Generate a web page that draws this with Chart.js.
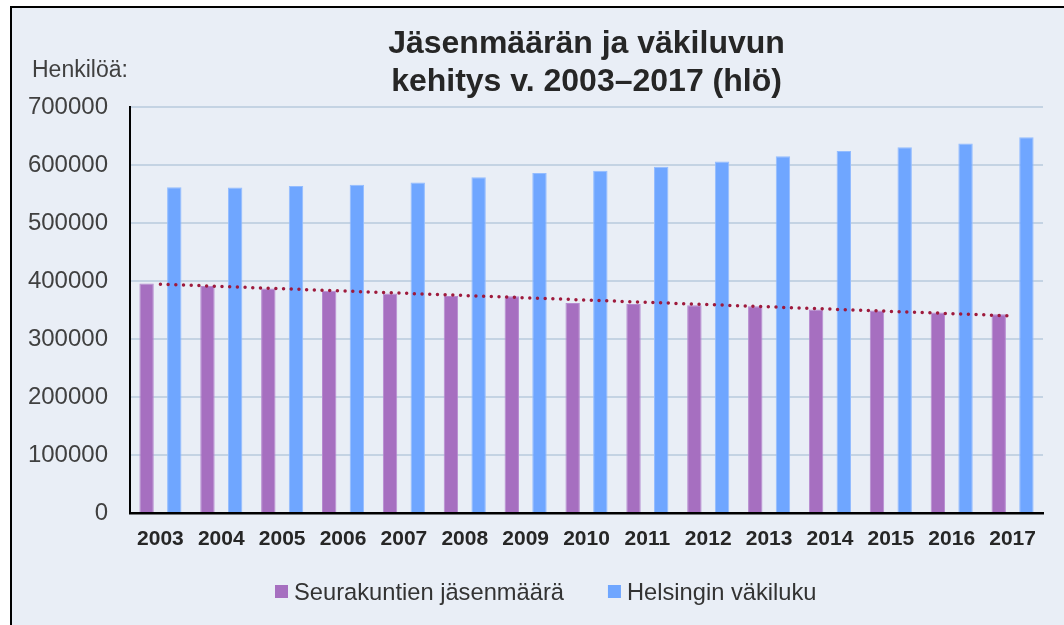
<!DOCTYPE html>
<html lang="fi">
  <head>
    <meta charset="UTF-8"/>
    <title>Jäsenmäärän ja väkiluvun kehitys</title>
    <style>
      html, body { margin: 0; padding: 0; background: #fff; overflow: hidden; }
      #frame { position: absolute; left: 10px; top: 6px; width: 1200px; height: 800px;
               border: 2px solid #000; background: #e9eef6; }
      #wrap { position: absolute; left: 0; top: 0; width: 1064px; height: 625px; }
    </style>
  </head>
  <body>
  <div id="frame"></div>
  <div id="wrap">
    <canvas id="myChart"></canvas>
  </div>
  <script src="https://cdn.jsdelivr.net/npm/chart.js"></script>
  <script>
    const years = ['2003', '2004', '2005', '2006', '2007', '2008', '2009', '2010',
                   '2011', '2012', '2013', '2014', '2015', '2016', '2017'];
    const members = [395500, 391500, 387000, 383000, 378500, 374000, 373500, 362000,
                     360500, 358000, 356500, 351000, 349000, 345500, 342500];
    const population = [561500, 561000, 564000, 566000, 570000, 579000, 586000, 590000,
                        597000, 606000, 615000, 624000, 630500, 637000, 648000];
    // dotted trend line, only its two ends
    const trend = [394500, null, null, null, null, null, null, null,
                   null, null, null, null, null, null, 339800];
    const titleLines = ['Jäsenmäärän ja väkiluvun', 'kehitys v. 2003–2017 (hlö)'];
    const unitLabel = 'Henkilöä:';

    const font = '"Liberation Sans", Arial, sans-serif';

    // title, unit label and legend drawn on the canvas
    const textPlugin = {
      id: 'texts',
      afterDraw(chart) {
        const ctx = chart.ctx;
        const area = chart.chartArea;
        ctx.save();
        ctx.fillStyle = '#262626';
        ctx.textAlign = 'center';
        ctx.textBaseline = 'alphabetic';
        ctx.font = 'bold 32px ' + font;
        const cx = (area.left + area.right) / 2;
        ctx.fillText(titleLines[0], cx, 53);
        ctx.fillText(titleLines[1], cx, 91);

        ctx.textAlign = 'left';
        ctx.fillStyle = '#404040';
        ctx.font = '23px ' + font;
        ctx.fillText(unitLabel, 32, 77);

        // legend
        ctx.font = '23.7px ' + font;
        const items = chart.data.datasets.filter(d => d.type !== 'line');
        let x = 275;
        items.forEach((d) => {
          ctx.fillStyle = d.backgroundColor;
          ctx.fillRect(x, 585, 13, 13);
          ctx.fillStyle = '#333';
          ctx.fillText(d.label, x + 19, 600);
          x += 19 + ctx.measureText(d.label).width + 44;
        });
        ctx.restore();
      }
    };

    const data = {
      labels: years,
      datasets: [{
        type: 'line',
        label: 'trend',
        data: trend,
        spanGaps: true,
        borderColor: '#9e1a3c',
        borderWidth: 3.5,
        borderDash: [0, 7.7],
        borderCapStyle: 'round',
        pointRadius: 0,
        order: 0
      }, {
        label: 'Seurakuntien jäsenmäärä',
        data: members,
        backgroundColor: '#a66fc0',
        borderColor: '#b68bd0',
        borderWidth: 1,
        categoryPercentage: 0.91,
        barPercentage: 0.52,
        order: 1
      }, {
        label: 'Helsingin väkiluku',
        data: population,
        backgroundColor: '#6fa6ff',
        borderColor: '#93bcff',
        borderWidth: 1,
        categoryPercentage: 0.91,
        barPercentage: 0.52,
        order: 1
      }]
    };

    const config = {
      type: 'bar',
      data,
      plugins: [textPlugin],
      options: {
        responsive: true,
        maintainAspectRatio: false,
        animation: false,
        layout: { padding: { left: 0, right: 21, top: 107, bottom: 0 } },
        plugins: {
          title: { display: false },
          tooltip: { enabled: false },
          legend: { display: false }
        },
        scales: {
          x: {
            grid: { display: false, drawTicks: false },
            border: { display: true, color: '#000', width: 2.5 },
            ticks: {
              color: '#262626',
              padding: 14,
              font: { family: font, size: 21, weight: 'bold' },
              maxRotation: 0
            },
            afterFit(scale) { scale.height = 112; }
          },
          y: {
            min: 0,
            max: 700000,
            grid: { color: '#c4d3e3', lineWidth: 2, drawTicks: false },
            border: { display: true, color: '#000', width: 2 },
            ticks: {
              stepSize: 100000,
              color: '#404040',
              padding: 22,
              font: { family: font, size: 24 },
              callback: (v) => String(v)
            },
            afterFit(scale) { scale.width = 130; }
          }
        }
      }
    };

    const myChart = new Chart(document.getElementById('myChart'), config);
  </script>
  </body>
</html>
